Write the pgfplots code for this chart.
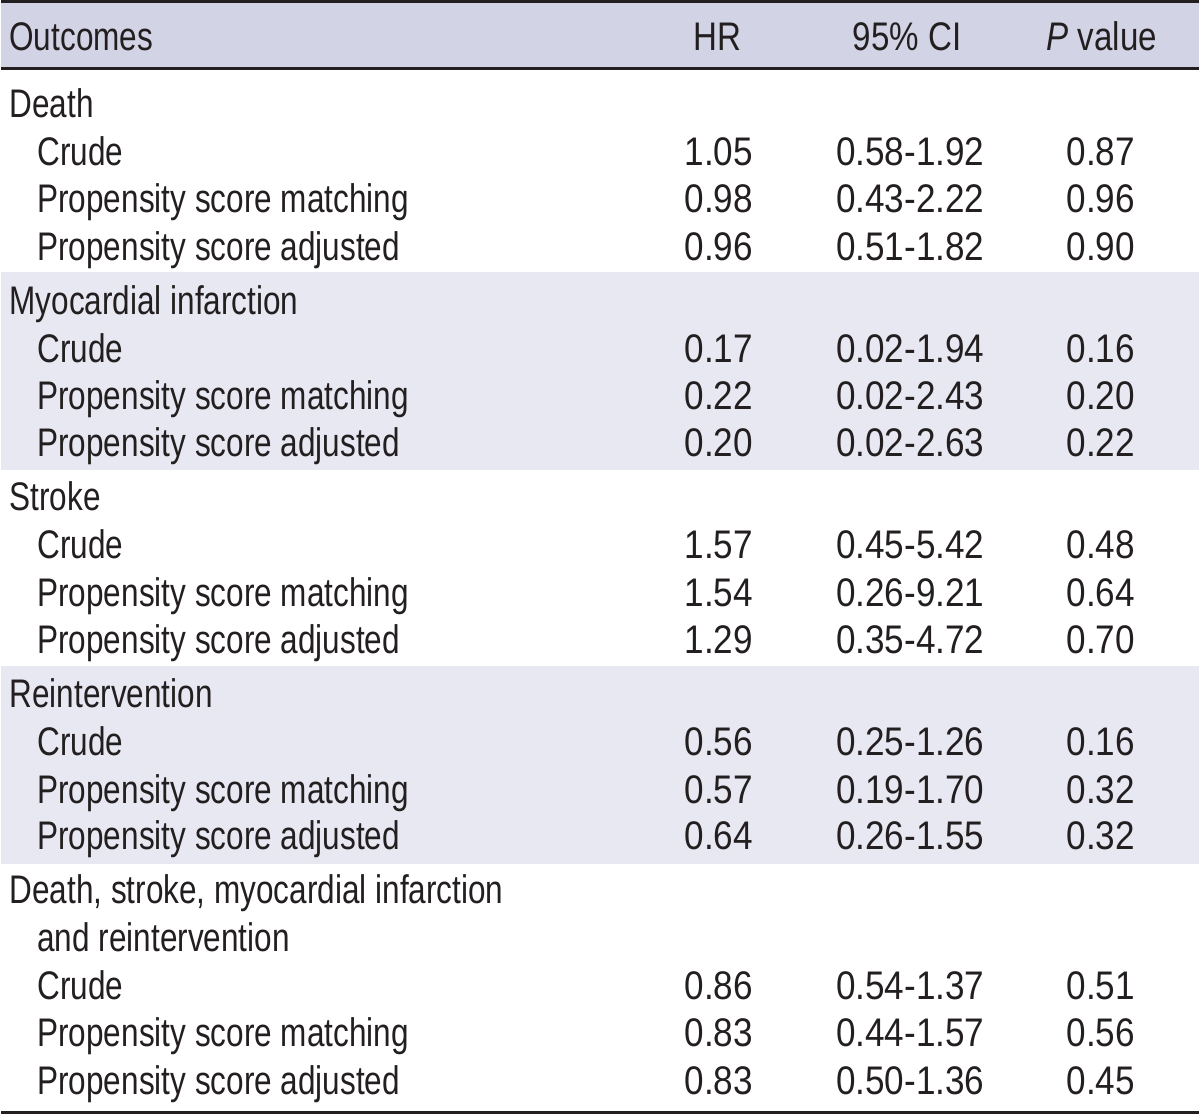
\documentclass[border=0pt]{standalone}
\usepackage{pgfplots}
\usepackage{pgfplotstable}
\pgfplotsset{compat=1.18}
\usepackage{fontspec}
\setmainfont{Liberation Sans}[FakeStretch=0.79]
\newfontfamily\numfont{Liberation Sans}[FakeStretch=0.88]
\newfontfamily\hdrfont{Liberation Sans}[FakeStretch=0.83]
\definecolor{hdr}{HTML}{D3D3E6}
\definecolor{band}{HTML}{E8E8F2}
\definecolor{ink}{HTML}{231F20}

\pgfplotstableread[col sep=semicolon]{
x;y;label
8;118;Death
36;166;Crude
36;213;Propensity score matching
36;261;Propensity score adjusted
8;315;Myocardial infarction
36;363;Crude
36;411;Propensity score matching
36;458;Propensity score adjusted
8;512;Stroke
36;560;Crude
36;608;Propensity score matching
36;655;Propensity score adjusted
8;709;Reintervention
36;757;Crude
36;805;Propensity score matching
36;852;Propensity score adjusted
8;906;{Death, stroke, myocardial infarction}
36;954;and reintervention
36;1002;Crude
36;1049;Propensity score matching
36;1097;Propensity score adjusted
}\outcomes

\pgfplotstableread[col sep=semicolon]{
y;hr;ci;p
166;1.05;0.58-1.92;0.87
213;0.98;0.43-2.22;0.96
261;0.96;0.51-1.82;0.90
363;0.17;0.02-1.94;0.16
411;0.22;0.02-2.43;0.20
458;0.20;0.02-2.63;0.22
560;1.57;0.45-5.42;0.48
608;1.54;0.26-9.21;0.64
655;1.29;0.35-4.72;0.70
757;0.56;0.25-1.26;0.16
805;0.57;0.19-1.70;0.32
852;0.64;0.26-1.55;0.32
1002;0.86;0.54-1.37;0.51
1049;0.83;0.44-1.57;0.56
1097;0.83;0.50-1.36;0.45
}\values

\begin{document}
\begin{tikzpicture}
\begin{axis}[
  x=0.5pt, y=0.5pt, y dir=reverse,
  xmin=0, xmax=1200, ymin=0, ymax=1119,
  hide axis, scale only axis, clip=false,
  every node near coord/.append style={font=\fontsize{20}{24}\selectfont, text=ink, inner sep=0pt, outer sep=0pt},
]
% background bands
\addplot[fill=hdr, draw=none] coordinates {(0,1.5) (1200,1.5) (1200,68.5) (0,68.5)};
\addplot[fill=band, draw=none] coordinates {(0,273) (1200,273) (1200,471) (0,471)};
\addplot[fill=band, draw=none] coordinates {(0,668) (1200,668) (1200,866) (0,866)};
% rules
\addplot[ink, line width=1.25pt] coordinates {(0,1.3) (1200,1.3)};
\addplot[ink, line width=1.5pt] coordinates {(0,68.5) (1200,68.5)};
\addplot[ink, line width=1.5pt] coordinates {(0,1115.5) (1200,1115.5)};
% header
\addplot[draw=none, mark=none, nodes near coords, point meta=explicit symbolic,
  nodes near coords style={anchor=base west}] table[meta=label] {
x y label
8 51 Outcomes
};
\addplot[draw=none, mark=none, nodes near coords, point meta=explicit symbolic,
  nodes near coords style={anchor=base, font=\fontsize{20}{24}\hdrfont}] coordinates {(718,51)[HR] (908,51)[{95\% CI}] (1103,51)[{\textit{P} value}]};
% outcome labels
\addplot[draw=none, mark=none, nodes near coords, point meta=explicit symbolic,
  nodes near coords style={anchor=base west}] table[x=x, y=y, meta=label] {\outcomes};
% values
\addplot[draw=none, mark=none, nodes near coords, point meta=explicit symbolic,
  nodes near coords style={anchor=base, font=\fontsize{20}{24}\numfont}] table[x expr=719, y=y, meta=hr] {\values};
\addplot[draw=none, mark=none, nodes near coords, point meta=explicit symbolic,
  nodes near coords style={anchor=base, font=\fontsize{20}{24}\numfont}] table[x expr=911, y=y, meta=ci] {\values};
\addplot[draw=none, mark=none, nodes near coords, point meta=explicit symbolic,
  nodes near coords style={anchor=base, font=\fontsize{20}{24}\numfont}] table[x expr=1102, y=y, meta=p] {\values};
% bounding
\addplot[draw=none, mark=none] coordinates {(0,0) (1200,1119)};
\end{axis}
\end{tikzpicture}
\end{document}
